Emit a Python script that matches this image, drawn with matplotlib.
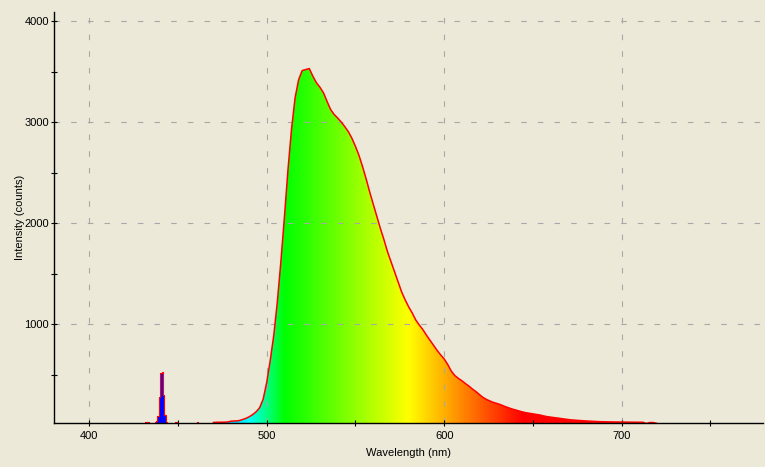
import numpy as np
import matplotlib
matplotlib.use('Agg')
import matplotlib.pyplot as plt
from matplotlib.colors import LinearSegmentedColormap, Normalize

# excitation line around 441 nm plus a few single-count blips
laser_wl = [431, 432, 433, 434, 436.4, 437.2, 438.0, 438.8, 439.6, 440.4,
            441.2, 442.0, 442.8, 443.6, 444.4, 448, 449, 450, 460, 461, 462, 469]
laser_counts = [0, 30, 30, 0, 0, 30, 40, 90, 280, 512,
                522, 297, 99, 33, 0, 0, 30, 0, 0, 30, 0, 0]

# emission band, sampled every 2 nm from 470 nm
main_start = 470
main_counts = [
    25, 27, 27, 28, 30, 38, 40, 42, 52, 64,
    80, 102, 130, 170, 255, 420, 640, 890, 1220, 1620,
    2060, 2530, 2930, 3240, 3420, 3510, 3520, 3530, 3455, 3390,
    3345, 3290, 3205, 3125, 3075, 3040, 3000, 2955, 2905, 2840,
    2760, 2670, 2560, 2440, 2310, 2190, 2070, 1950, 1840, 1720,
    1620, 1520, 1420, 1320, 1240, 1170, 1110, 1040, 990, 945,
    890, 840, 790, 740, 695, 655, 600, 535, 490, 462,
    438, 410, 385, 355, 330, 300, 272, 252, 236, 222,
    212, 200, 185, 172, 160, 150, 140, 130, 122, 116,
    110, 104, 99, 90, 83, 78, 72, 68, 64, 58,
    54, 50, 48, 45, 42, 40, 38, 36, 34, 33,
    32, 31, 30, 30, 30, 29, 29, 28, 28, 28,
    28, 27, 15, 25, 24, 15, 0, 0, 0, 0, 0,
]
main_wl = list(range(main_start, main_start + 2 * len(main_counts), 2))

x_major = [400, 500, 600, 700]
x_minor = [450, 550, 650, 750]
y_major = [1000, 2000, 3000, 4000]
y_minor = [500, 1500, 2500, 3500]

# visible spectrum colour stops (wavelength, rgb)
spec_stops = [(380, (1, 0, 1)), (440, (0, 0, 1)), (490, (0, 1, 1)),
              (510, (0, 1, 0)), (580, (1, 1, 0)), (645, (1, 0, 0)),
              (780, (1, 0, 0))]

bg = '#ECE9D8'
plt.rcParams['font.family'] = ['Liberation Sans', 'DejaVu Sans']
plt.rcParams['font.size'] = 8

fig = plt.figure(figsize=(7.65, 4.67), dpi=100, facecolor=bg)
ax = fig.add_axes([0.0712, 0.0936, 0.9262, 0.8807], facecolor=bg)

lo, hi = spec_stops[0][0], spec_stops[-1][0]
cmap = LinearSegmentedColormap.from_list(
    'spectrum', [((w - lo) / (hi - lo), c) for w, c in spec_stops])


def spectrum_patch(x, y, step, lw):
    # colour the area under (x, y) by wavelength, then outline it in red
    x = np.asarray(x, dtype=float)
    y = np.asarray(y, dtype=float)
    area = ax.fill_between(x, y, step=step, color='none', lw=0)
    grad = np.linspace(lo, hi, 1000)[None, :]
    img = ax.imshow(grad, extent=[lo, hi, 0, 4200], cmap=cmap,
                    norm=Normalize(lo, hi), aspect='auto', zorder=1,
                    interpolation='bilinear')
    img.set_clip_path(area.get_paths()[0], transform=ax.transData)
    if step:
        ax.step(x, y, where=step, color='red', lw=lw, zorder=3)
    else:
        ax.plot(x, y, color='red', lw=lw, zorder=3)


spectrum_patch(laser_wl, laser_counts, 'mid', 0.8)
spectrum_patch(main_wl, main_counts, None, 1.1)

ax.set_xlim(380.4, 779.7)
ax.set_ylim(17, 4090)

ax.set_xticks(x_major)
ax.set_xticks(x_minor, minor=True)
ax.set_yticks(y_major)
ax.set_yticks(y_minor, minor=True)
ax.tick_params(which='both', direction='inout', length=5, width=0.8,
               color='black')
ax.tick_params(axis='x', pad=3)
ax.tick_params(axis='y', pad=1.5)

ax.set_axisbelow(False)
ax.grid(True, which='major', color='#A8A8A8', lw=0.8, ls=(0, (5, 10)))

for side in ['top', 'right']:
    ax.spines[side].set_visible(False)
for side in ['left', 'bottom']:
    ax.spines[side].set_linewidth(1.0)
    ax.spines[side].set_zorder(4)

ax.set_xlabel('Wavelength (nm)', labelpad=5)
ax.set_ylabel('Intensity (counts)')
ax.yaxis.set_label_coords(-0.0416, 0.5)

fig.savefig('out.png', dpi=100, facecolor=bg)
